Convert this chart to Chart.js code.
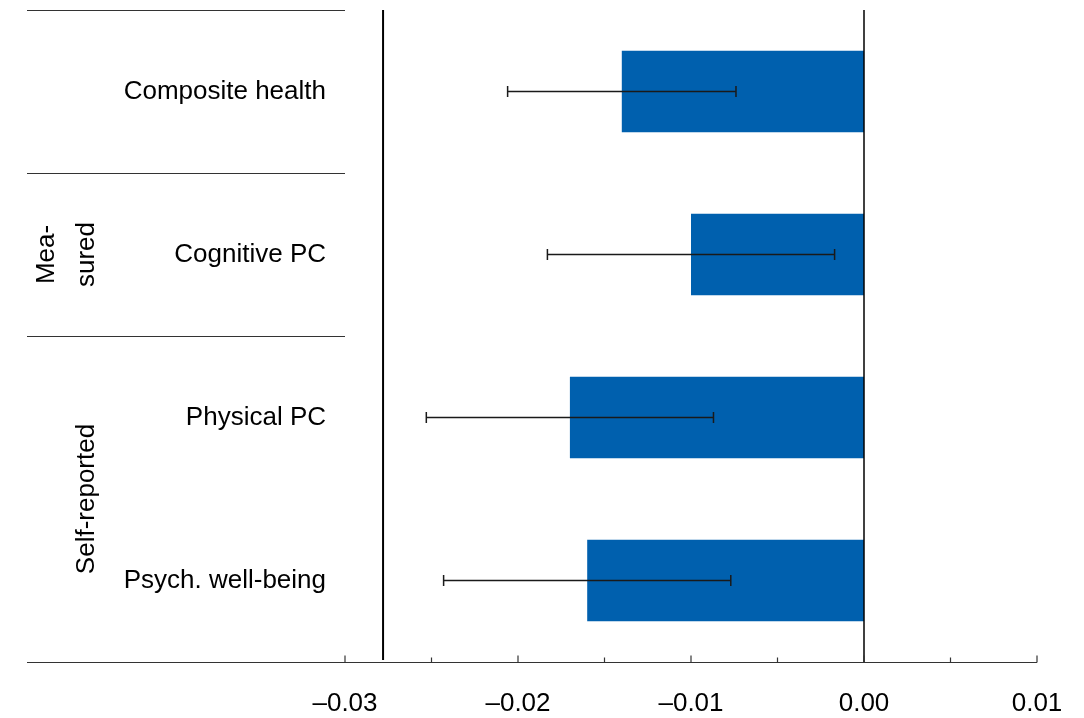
<!DOCTYPE html>
<html lang="en">
<head>
  <meta charset="UTF-8">
  <title>Health effects</title>
  <script src="https://cdn.jsdelivr.net/npm/chart.js"></script>
  <style>
    body { margin: 0; background: #fff; }
  </style>
</head>
<body>
  <div style="width: 1084px; height: 718px;">
    <canvas id="chart"></canvas>
  </div>

  <script>
    // values
    const categories = ['Composite health', 'Cognitive PC', 'Physical PC', 'Psych. well-being'];
    const estimates = [-0.0140, -0.0100, -0.0170, -0.0160];
    const ciLow = [-0.0206, -0.0183, -0.0253, -0.0243];
    const ciHigh = [-0.0074, -0.0017, -0.0087, -0.0077];
    const groupLabels = [[], ['Mea-', 'sured'], ['Self-reported']];
    const groupFrom = [0, 1, 2];
    const groupTo = [0, 1, 3];
    const refValue = -0.0278;
    const xMin = -0.03, xMax = 0.01, xStep = 0.005;

    Chart.defaults.font.family = '"Liberation Sans", Arial, sans-serif';
    Chart.defaults.font.size = 26;
    Chart.defaults.color = '#000';

    const fmt = v => {
      if (Math.round(v * 1000) % 10 !== 0) return '';
      return (v < -1e-9 ? '\u2013' : '') + Math.abs(v).toFixed(2);
    };

    // error bars, separators, axis ticks and group labels
    const extras = {
      id: 'extras',
      afterDatasetsDraw(chart) {
        const { ctx, chartArea, scales: { x, y } } = chart;
        const leftEdge = 27;
        ctx.save();

        // error bars
        ctx.strokeStyle = '#1a1a1a';
        ctx.lineWidth = 1.5;
        categories.forEach((c, i) => {
          const yc = y.getPixelForValue(i);
          const x1 = x.getPixelForValue(ciLow[i]);
          const x2 = x.getPixelForValue(ciHigh[i]);
          ctx.beginPath();
          ctx.moveTo(x1, yc); ctx.lineTo(x2, yc);
          ctx.moveTo(x1, yc - 5.5); ctx.lineTo(x1, yc + 5.5);
          ctx.moveTo(x2, yc - 5.5); ctx.lineTo(x2, yc + 5.5);
          ctx.stroke();
        });

        // zero line and reference line
        ctx.strokeStyle = '#000';
        ctx.lineWidth = 1.5;
        let zx = x.getPixelForValue(0);
        ctx.beginPath();
        ctx.moveTo(zx, chartArea.top); ctx.lineTo(zx, chartArea.bottom);
        ctx.stroke();
        ctx.lineWidth = 2;
        let rx = x.getPixelForValue(refValue);
        ctx.beginPath();
        ctx.moveTo(rx, chartArea.top); ctx.lineTo(rx, chartArea.bottom - 2);
        ctx.stroke();

        // group separators on the left
        ctx.strokeStyle = '#333';
        ctx.lineWidth = 1.2;
        groupFrom.forEach(f => {
          const yy = Math.round(y.getPixelForValue(f - 0.5)) + 0.5;
          ctx.beginPath();
          ctx.moveTo(leftEdge, yy); ctx.lineTo(chartArea.left, yy);
          ctx.stroke();
        });
        // bottom axis line
        const by = Math.round(chartArea.bottom) + 0.5;
        ctx.beginPath();
        ctx.moveTo(leftEdge, by); ctx.lineTo(chartArea.right, by);
        ctx.stroke();

        // tick marks pointing up
        x.ticks.forEach(t => {
          const px = x.getPixelForValue(t.value);
          const len = fmt(t.value) ? 7 : 5;
          ctx.beginPath();
          ctx.moveTo(px, by); ctx.lineTo(px, by - len);
          ctx.stroke();
        });

        // group labels, rotated
        ctx.fillStyle = '#000';
        ctx.font = '26px "Liberation Sans", Arial, sans-serif';
        ctx.textAlign = 'center';
        ctx.textBaseline = 'alphabetic';
        groupLabels.forEach((lines, g) => {
          if (!lines.length) return;
          const yMid = (y.getPixelForValue(groupFrom[g] - 0.5) + y.getPixelForValue(groupTo[g] + 0.5)) / 2;
          lines.forEach((txt, k) => {
            const bx = 94 - (lines.length - 1 - k) * 40;
            ctx.save();
            ctx.translate(bx, yMid);
            ctx.rotate(-Math.PI / 2);
            ctx.fillText(txt, 0, 0);
            ctx.restore();
          });
        });

        ctx.restore();
      }
    };

    new Chart(document.getElementById('chart'), {
      type: 'bar',
      data: {
        labels: categories,
        datasets: [{
          data: estimates,
          backgroundColor: '#0060ae',
          borderWidth: 0,
          barPercentage: 0.5,
          categoryPercentage: 1.0
        }]
      },
      options: {
        indexAxis: 'y',
        responsive: true,
        maintainAspectRatio: false,
        animation: false,
        layout: { padding: { top: 10, right: 47, bottom: 0, left: 0 } },
        plugins: {
          legend: { display: false },
          tooltip: { enabled: false }
        },
        scales: {
          x: {
            min: xMin,
            max: xMax,
            grid: { display: false, drawTicks: false },
            border: { display: false },
            ticks: {
              stepSize: xStep,
              autoSkip: false,
              maxRotation: 0,
              padding: 26,
              callback: v => fmt(v)
            },
            afterFit: s => {
              s.height = 56;
              s.paddingLeft = 0;
              s.paddingRight = 0;
            }
          },
          y: {
            grid: { display: false, drawTicks: false },
            border: { display: false },
            ticks: { padding: 19 },
            afterFit: s => {
              s.width = 345;
              s.paddingTop = 0;
              s.paddingBottom = 0;
            }
          }
        }
      },
      plugins: [extras]
    });
  </script>
</body>
</html>
